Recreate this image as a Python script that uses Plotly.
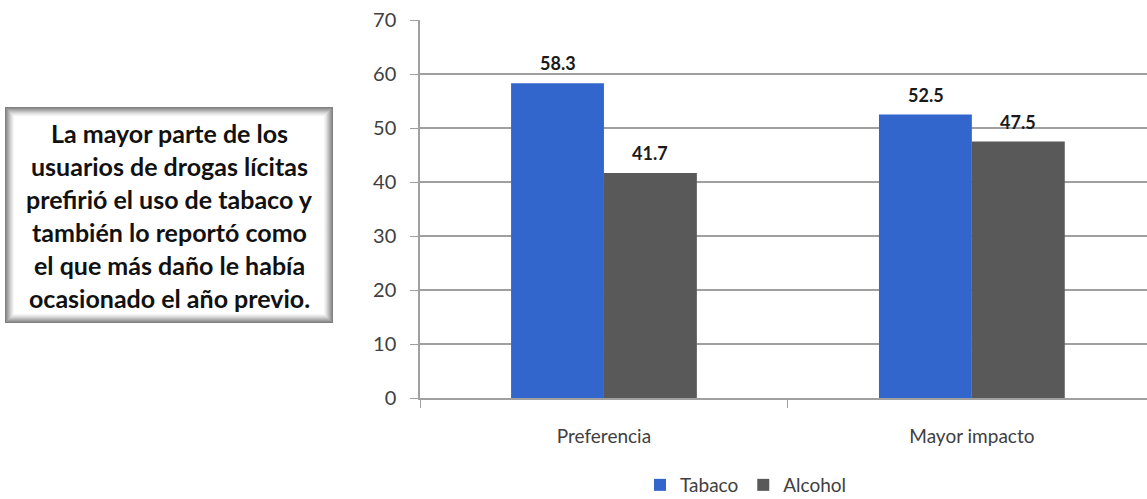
import plotly.graph_objects as go

# data
categorias = ["Preferencia", "Mayor impacto"]
tabaco = [58.3, 52.5]
alcohol = [41.7, 47.5]
nota = [
    "La mayor parte de los",
    "usuarios de drogas lícitas",
    "prefirió el uso de tabaco y",
    "también lo reportó como",
    "el que más daño le había",
    "ocasionado el año previo.",
]

W, H = 1147, 499
L, R, T, B = 420, 0, 20, 101
PW, PH = W - L - R, H - T - B


def px_x(x):
    return (x - L) / PW


def px_y(y):
    return (H - B - y) / PH


fig = go.Figure()
fig.add_trace(go.Bar(x=categorias, y=tabaco, name="Tabaco", marker_color="#3366cc", marker_line_width=0))
fig.add_trace(go.Bar(x=categorias, y=alcohol, name="Alcohol", marker_color="#595959", marker_line_width=0))

annotations = []
# value labels above each bar
for serie, dx in ((tabaco, -46), (alcohol, 46)):
    for cat, v in zip(categorias, serie):
        annotations.append(dict(
            text=f"<b>{v:.1f}</b>", x=cat, y=v, xref="x", yref="y", showarrow=False,
            xshift=dx, yshift=7, yanchor="bottom", xanchor="center",
            font=dict(family="Lato", size=18, color="#1a1a1a"),
        ))

# framed text box with a soft grey border
x0, x1, y0, y1 = 5, 333, 107, 323
greys = ["#808080", "#909090", "#a0a0a0", "#b0b0b0", "#c0c0c0", "#d0d0d0", "#dedede", "#eaeaea", "#f4f4f4"]
shapes = []
for i, c in enumerate(greys):
    shapes.append(dict(
        type="rect", xref="paper", yref="paper", line_width=0, fillcolor=c, layer="above",
        x0=px_x(x0 + i), x1=px_x(x1 - i), y0=px_y(y1 - i), y1=px_y(y0 + i),
    ))
n = len(greys)
shapes.append(dict(
    type="rect", xref="paper", yref="paper", line_width=0, fillcolor="#ffffff", layer="above",
    x0=px_x(x0 + n), x1=px_x(x1 - n), y0=px_y(y1 - n), y1=px_y(y0 + n),
))

for i, linea in enumerate(nota):
    annotations.append(dict(
        text=f"<b>{linea}</b>", xref="paper", yref="paper", showarrow=False,
        x=px_x(169), y=px_y(133 + i * 33), xanchor="center", yanchor="middle",
        font=dict(family="Lato", size=25, color="#111111"),
    ))

fig.update_layout(
    width=W, height=H,
    margin=dict(l=L, r=R, t=T, b=B, autoexpand=False),
    plot_bgcolor="#ffffff", paper_bgcolor="#ffffff",
    barmode="group", bargap=0.495, bargroupgap=0,
    font=dict(family="Lato", size=18, color="#404040"),
    showlegend=True,
    legend=dict(orientation="h", x=px_x(746), y=px_y(485), xanchor="center", yanchor="middle",
                font=dict(size=19, color="#404040"), itemwidth=30, traceorder="normal"),
    shapes=shapes,
    annotations=annotations,
)
fig.update_xaxes(
    range=[-0.5, 1.476], showline=True, linecolor="#a0a0a0", linewidth=1.5,
    ticks="outside", tickson="boundaries", ticklen=8, tickcolor="#a0a0a0",
    showgrid=False, tickfont=dict(size=19, color="#404040"), ticklabelstandoff=20,
)
fig.update_yaxes(
    range=[0, 70.02], tickvals=list(range(0, 80, 10)), showline=True, linecolor="#a0a0a0", linewidth=1.5,
    ticks="outside", ticklen=8, tickcolor="#a0a0a0",
    showgrid=True, gridcolor="#a0a0a0", gridwidth=1.5, zeroline=False,
    tickfont=dict(size=20, color="#404040"), ticklabelstandoff=10,
)

# drop the browser's default body margin so the figure sits at the page corner
fig.write_html("out.html", config={"displayModeBar": False},
               post_script="document.body.style.margin='0';")
